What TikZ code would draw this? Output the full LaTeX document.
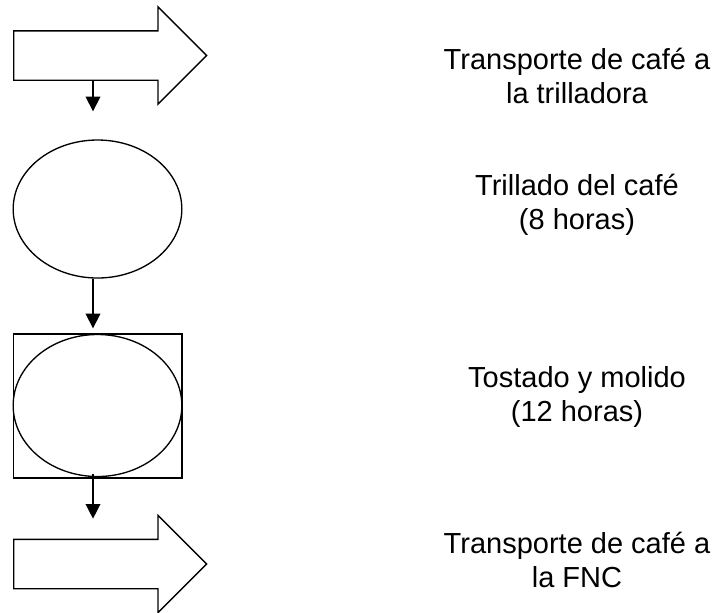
\documentclass[tikz,border=0pt]{standalone}
\usepackage{fontspec}
\setmainfont{Liberation Sans}
\usetikzlibrary{shapes.geometric, shapes.arrows, arrows.meta, positioning, calc}

\begin{document}
\begin{tikzpicture}[x=0.75pt, y=-0.75pt, line width=1pt,
    bigarrow/.style={single arrow, draw, single arrow head extend=18pt,
        minimum height=144.75pt, inner xsep=0pt, inner ysep=18pt,
        text height=0pt, text depth=0pt, anchor=tail},
    oval/.style={ellipse, draw, inner sep=0pt, minimum width=126.5pt},
    flow/.style={-{Triangle[length=11pt,width=11pt]}},
    label/.style={align=center, anchor=base,
        font=\fontsize{21.75}{25.5}\selectfont}]
    \useasboundingbox (0,0) rectangle (716,612);
    % shapes on the left
    \node[bigarrow] (arr1) at (13,55.5) {};
    \node[oval, minimum height=103.5pt] (e1) at (97.5,209) {};
    \node[draw, inner sep=0pt, minimum width=126.5pt, minimum height=108pt] (box) at (97.5,406) {};
    \node[oval, minimum height=106.5pt] (e2) at (97.5,405.5) {};
    \node[bigarrow] (arr2) at (13,564) {};
    % short arrows between them
    \coordinate (axis) at (93,0);
    \draw[flow] (arr1.south -| axis) -- ($(e1.north -| axis)+(0,-28)$);
    \draw[flow] (e1.south -| axis) -- ($(box.north -| axis)+(0,-5)$);
    \draw[flow] ($(box.south -| axis)+(0,-5)$) -- ($(arr2.north -| axis)+(0,-20)$);
    % descriptions
    \node[label] (t1) at (577,103) {Transporte de café a\\la trilladora};
    \node[label] (t2) at (577,229) {Trillado del café\\(8 horas)};
    \node[label] (t3) at (577,421) {Tostado y molido\\(12 horas)};
    \node[label] (t4) at (577,587) {Transporte de café a\\la FNC};
\end{tikzpicture}
\end{document}
